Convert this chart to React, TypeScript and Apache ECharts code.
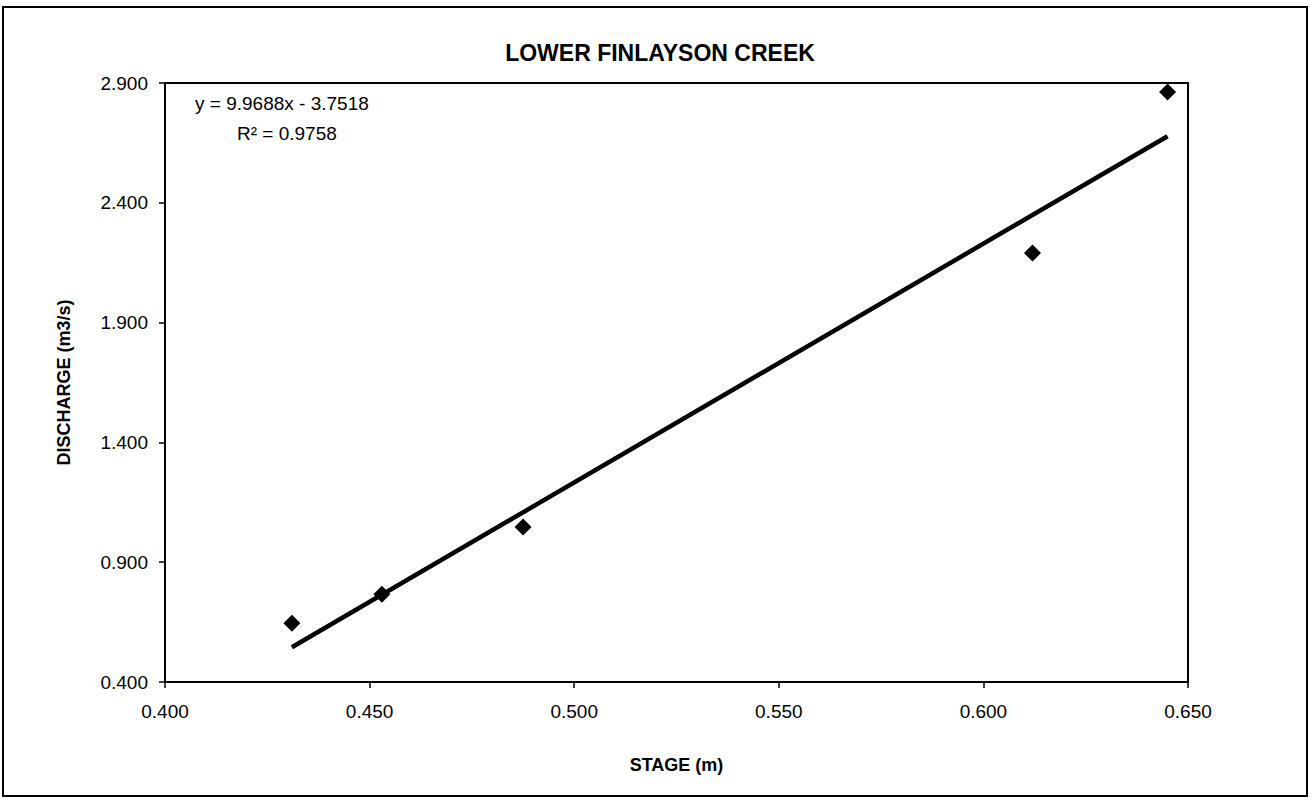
import React, { useEffect, useRef } from "react";
import * as echarts from "echarts";

const stage = [0.431, 0.453, 0.4875, 0.612, 0.645];
const discharge = [0.645, 0.766, 1.047, 2.19, 2.862];
const trendStage = [0.431, 0.645];
const trendDischarge = [0.545, 2.678];
const chartTitle = "LOWER FINLAYSON CREEK";
const xTitle = "STAGE (m)";
const yTitle = "DISCHARGE (m3/s)";
const equation = "y = 9.9688x - 3.7518";
const rSquared = "R\u00b2 = 0.9758";

export default function App() {
  const ref = useRef<HTMLDivElement>(null);
  useEffect(() => {
    document.body.style.margin = "0";
    const chart = echarts.init(ref.current!, null, { renderer: "svg" });
    const font = "Liberation Sans, Arial, sans-serif";
    chart.setOption({
      animation: false,
      backgroundColor: "#fff",
      textStyle: { fontFamily: font },
      title: {
        text: chartTitle,
        left: 655,
        top: 36,
        textAlign: "center",
        textStyle: { fontSize: 23, fontWeight: "bold", color: "#000", fontFamily: font },
      },
      grid: {
        left: 165,
        right: 124,
        top: 83,
        bottom: 119,
        show: true,
        borderColor: "#000",
        borderWidth: 2,
      },
      xAxis: {
        type: "value",
        min: 0.4,
        max: 0.65,
        interval: 0.05,
        name: xTitle,
        nameLocation: "middle",
        nameGap: 74,
        nameTextStyle: { fontSize: 18, fontWeight: "bold", color: "#000", fontFamily: font },
        axisLine: { show: true, lineStyle: { color: "#000", width: 2 } },
        axisTick: { show: true, length: 6, lineStyle: { color: "#000", width: 1.5 } },
        axisLabel: {
          color: "#000",
          fontSize: 19,
          margin: 20,
          fontFamily: font,
          formatter: (v: number) => v.toFixed(3),
        },
        splitLine: { show: false },
      },
      yAxis: {
        type: "value",
        min: 0.4,
        max: 2.9,
        interval: 0.5,
        name: yTitle,
        nameLocation: "middle",
        nameGap: 92,
        nameTextStyle: { fontSize: 18, fontWeight: "bold", color: "#000", fontFamily: font },
        axisLine: { show: true, lineStyle: { color: "#000", width: 2 } },
        axisTick: { show: true, length: 6, lineStyle: { color: "#000", width: 1.5 } },
        axisLabel: {
          color: "#000",
          fontSize: 19,
          margin: 17,
          fontFamily: font,
          formatter: (v: number) => v.toFixed(3),
        },
        splitLine: { show: false },
      },
      graphic: [
        {
          type: "rect",
          shape: { x: 3, y: 7, width: 1304, height: 789 },
          style: { fill: "none", stroke: "#000", lineWidth: 2 },
          silent: true,
        },
        {
          type: "text",
          left: 195,
          top: 94,
          style: { text: equation, fontSize: 19, fill: "#000", fontFamily: font },
        },
        {
          type: "text",
          left: 237,
          top: 124,
          style: { text: rSquared, fontSize: 19, fill: "#000", fontFamily: font },
        },
      ],
      series: [
        {
          type: "line",
          data: trendStage.map((x, i) => [x, trendDischarge[i]]),
          symbol: "none",
          lineStyle: { color: "#000", width: 4.5 },
          z: 2,
        },
        {
          type: "scatter",
          data: stage.map((x, i) => [x, discharge[i]]),
          symbol: "diamond",
          symbolSize: 17,
          itemStyle: { color: "#000", opacity: 1 },
          z: 3,
        },
      ],
    });
    return () => chart.dispose();
  }, []);
  return <div ref={ref} style={{ width: 1312, height: 801 }} />;
}
